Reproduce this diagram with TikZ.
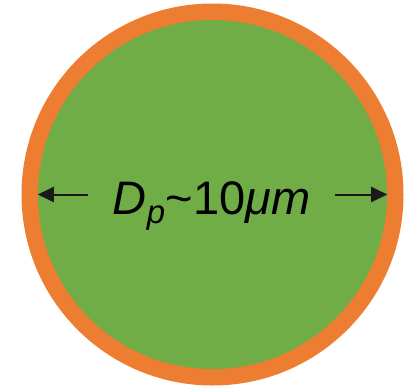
\documentclass[tikz,border=0pt]{standalone}
\usepackage{fontspec}
\setmainfont{Liberation Sans}
\usetikzlibrary{arrows.meta}
\definecolor{ringcol}{HTML}{ED7D31}
\definecolor{corecol}{HTML}{70AD47}
\definecolor{arrowcol}{HTML}{1A1A1A}
\begin{document}
\begin{tikzpicture}[x=1pt,y=-1pt,
  disc/.style={circle, inner sep=0pt, draw=none},
  dimarrow/.style={draw=arrowcol, line width=2pt, -{Triangle[length=16pt,width=15pt]}},
  lbl/.style={font=\fontsize{47}{47}\selectfont, inner sep=0pt, anchor=base}]
\useasboundingbox (0,0) rectangle (414,388);
\node[disc, fill=ringcol, minimum size=382pt] (outer) at (212.5,194.5) {};
\node[disc, fill=corecol, minimum size=349pt] (inner) at (212.5,194.5) {};
\node[lbl] (label) at (211.5,214) {\textit{D}\textsubscript{\textit{p}}\textasciitilde10\textit{μm}};
\coordinate (ltail) at (88,194.5);
\coordinate (rtail) at (335,194.5);
\draw[dimarrow] (ltail) -- (inner.west);
\draw[dimarrow] (rtail) -- (inner.east);
\end{tikzpicture}
\end{document}
